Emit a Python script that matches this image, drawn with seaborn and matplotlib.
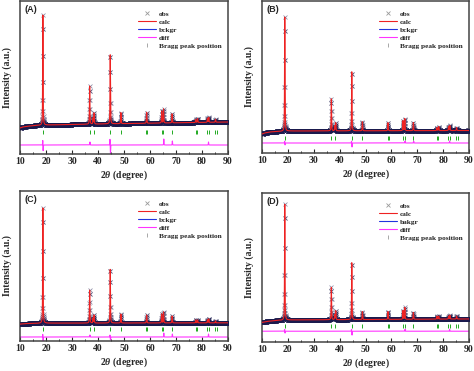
import numpy as np
import pandas as pd
import matplotlib
matplotlib.use("Agg")
import matplotlib.pyplot as plt
import seaborn as sns
from matplotlib.lines import Line2D
from matplotlib.ticker import MultipleLocator

# reflections (2theta, degree)
peak_pos = [18.8, 36.8, 38.1, 38.5, 44.7, 48.8, 58.7, 64.5, 65.2, 68.5, 77.6, 78.3, 82.1, 82.6, 85.2]
# peak heights above background, per panel
height_a = [110, 38, 6, 11, 69, 11, 11, 12, 14, 9, 3, 4, 4, 5, 3]
height_b = [114, 32, 5, 8, 59, 9, 8, 10, 12, 8, 3, 4, 4, 5, 3]
height_c = [116, 33, 5, 8, 54, 9, 8, 9, 11, 7, 3, 3, 3, 4, 2]
height_d = [118, 33, 5, 9, 58, 8, 8, 9, 12, 7, 3, 3, 3, 4, 3]

# background knots
bg_x_a = [10, 11, 13, 16, 20, 40, 60, 90]
bg_y_a = [-4, -3, -2.2, -1.5, -1, 0, 0.8, 2]
bg_x_b = [10, 11, 13, 16, 20, 90]
bg_y_b = [-3, -2, -1, -0.5, 0, 0.5]
bg_x_c = [10, 12, 20, 90]
bg_y_c = [-1, -0.5, 0, 0.3]
bg_x_d = [10, 12, 16, 20, 90]
bg_y_d = [-3, -2, -1, -0.5, 0.5]

# spikes in the difference curve
diff_pos_a = [18.75, 18.9, 36.9, 44.6, 44.8, 65.3, 68.6, 82.5]
diff_amp_a = [5, -6, 3, 6, -9, 6, 4, 3]
diff_pos_b = [18.75, 18.9, 44.6, 44.8, 65.3, 68.6, 82.5]
diff_amp_b = [2, -2, 2, -4, 2, 2, 2]
diff_pos_c = [18.75, 18.9, 36.9, 44.6, 44.8, 65.3, 68.6, 82.5]
diff_amp_c = [3, -5, 2, 2, -3, 4, 3, 3]
diff_pos_d = [18.75, 18.9, 44.6, 44.8, 65.3, 82.5]
diff_amp_d = [2, -2, 2, -4, 2, 2]

# Bragg reflection markers
bragg_pos = [18.8, 36.8, 38.4, 44.7, 48.8, 58.6, 59.0, 64.5, 65.1, 68.5,
             77.5, 78.2, 82.0, 82.7, 84.9, 85.6]

panel_labels = ['(A)', '(B)', '(C)', '(D)']
bkg_labels = ['bckgr', 'bckgr', 'bckgr', 'bakgr']

heights = [height_a, height_b, height_c, height_d]
bgs = [(bg_x_a, bg_y_a), (bg_x_b, bg_y_b), (bg_x_c, bg_y_c), (bg_x_d, bg_y_d)]
diffs = [(diff_pos_a, diff_amp_a), (diff_pos_b, diff_amp_b),
         (diff_pos_c, diff_amp_c), (diff_pos_d, diff_amp_d)]
# (ymin, ymax, bragg level, diff level)
levels = [(-30, 123, -8, -21), (-22, 130, -7, -12),
          (-18, 133, -6, -14), (-23, 129, -7, -12)]
# axes boxes in pixels: left, top, right, bottom
boxes = [(20, 1, 228, 154), (262, 1, 469, 153),
         (20, 191, 228, 341), (262, 193, 469, 342)]

W, H = 474, 371

sns.set_style('ticks')
plt.rcParams['font.family'] = ['Liberation Serif', 'DejaVu Serif']
plt.rcParams['font.weight'] = 'bold'
plt.rcParams['mathtext.fontset'] = 'custom'
plt.rcParams['mathtext.it'] = 'Liberation Serif:italic:bold'
plt.rcParams['mathtext.rm'] = 'Liberation Serif:bold'

x = np.arange(10, 90.0001, 0.02)


def profile(x, pos, amp, fwhm=0.2):
    y = np.zeros_like(x)
    for p, a in zip(pos, amp):
        g = np.exp(-4 * np.log(2) * ((x - p) / fwhm) ** 2)
        l = 1 / (1 + 4 * ((x - p) / fwhm) ** 2)
        y += a * (0.5 * g + 0.5 * l)
    return y


fig = plt.figure(figsize=(W / 100, H / 100), dpi=100)

for i in range(4):
    l, t, r, b = boxes[i]
    ax = fig.add_axes([l / W, (H - b) / H, (r - l) / W, (b - t) / H])
    ymin, ymax, tick_lvl, diff_lvl = levels[i]

    bg = np.interp(x, bgs[i][0], bgs[i][1])
    calc = bg + profile(x, peak_pos, heights[i])
    dpos, damp = diffs[i]
    diff = diff_lvl + profile(x, dpos, damp, fwhm=0.12)
    df = pd.DataFrame({'x': x, 'calc': calc, 'bg': bg, 'diff': diff})

    sns.lineplot(data=df, x='x', y='diff', ax=ax, color='#ff33ff', lw=0.8, estimator=None, zorder=2)
    sns.scatterplot(x=bragg_pos, y=[tick_lvl] * len(bragg_pos), ax=ax, marker='|',
                    s=5, color='#22aa22', linewidth=0.7, zorder=3)
    sns.lineplot(data=df, x='x', y='bg', ax=ax, color='#2233dd', lw=0.8, estimator=None, zorder=2)
    sns.lineplot(data=df, x='x', y='calc', ax=ax, color='#ee2222', lw=0.8, estimator=None, zorder=4)
    obs = df[::2]
    sns.scatterplot(data=obs, x='x', y='calc', ax=ax, marker='x', s=8,
                    color='#1a1a4d', linewidth=0.5, alpha=0.55, zorder=3)

    ax.set_xlim(10, 90)
    ax.set_ylim(ymin, ymax)
    ax.set_yticks([])
    ax.xaxis.set_major_locator(MultipleLocator(10))
    ax.xaxis.set_minor_locator(MultipleLocator(5))
    ax.tick_params(axis='x', which='major', direction='in', length=3, width=0.8,
                   labelsize=7, pad=2)
    ax.tick_params(axis='x', which='minor', direction='in', length=1.5, width=0.7)
    for s in ax.spines.values():
        s.set_color('#444444')
        s.set_linewidth(1.1)
    ax.set_xlabel(r'2$\theta$ (degree)', fontsize=7, fontweight='bold', labelpad=2)
    ax.set_ylabel('Intensity (a.u.)', fontsize=7, fontweight='bold', labelpad=6)
    ax.text(0.02, 0.975, panel_labels[i], transform=ax.transAxes, ha='left', va='top',
            fontsize=6.5, fontweight='bold', family='Liberation Sans')

    handles = [
        Line2D([], [], ls='none', marker='x', ms=2.5, mew=0.6, color='#999999'),
        Line2D([], [], color='#ee2222', lw=0.8),
        Line2D([], [], color='#2233dd', lw=0.8),
        Line2D([], [], color='#ff33ff', lw=0.8),
        Line2D([], [], ls='none', marker='|', ms=3, mew=0.6, color='#999999'),
    ]
    names = ['obs', 'calc', bkg_labels[i], 'diff', 'Bragg peak position']
    ax.legend(handles, names, loc='upper left', bbox_to_anchor=(0.56, 0.945),
              frameon=False, labelspacing=0.25, handlelength=2.4,
              handletextpad=0.4, borderaxespad=0, borderpad=0.2,
              prop={'family': 'Liberation Serif', 'weight': 'bold', 'size': 5.3})

fig.savefig('out.png', dpi=100)
